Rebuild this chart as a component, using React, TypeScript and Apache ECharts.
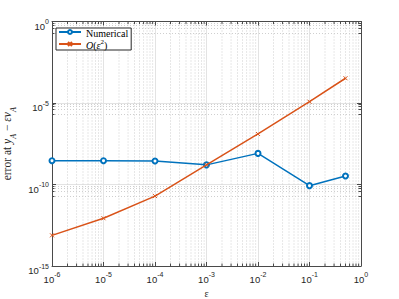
import React, { useEffect, useRef } from 'react';
import * as echarts from 'echarts';

const epsilon = [1e-6, 1e-5, 1e-4, 1e-3, 1e-2, 1e-1, 0.5];
const numerical = [2.9e-9, 2.9e-9, 2.75e-9, 1.6e-9, 8.1e-9, 8.5e-11, 3.3e-10];
const orderEps2 = [7.6e-14, 8.5e-13, 1.95e-11, 1.6e-9, 1.26e-7, 1.2e-5, 3.3e-4];
const seriesNames = ['Numerical', 'O(ε²)'];
const xRange = [1e-6, 1];
const yRange = [1e-15, 1];
const xMinorDecades = [-6, -5, -4, -3, -2, -1];
const xMinorMultipliers = [2, 3, 4, 5, 6, 7, 8, 9];

const BLUE = '#0072BD';
const ORANGE = '#D95319';
const AXIS = '#4a4a4a';
const TXT = '#262626';
const SERIF = '"Liberation Serif", "Times New Roman", serif';
const SANS = '"Liberation Sans", Arial, Helvetica, sans-serif';

const xMinorGrid: number[][] = [];
xMinorDecades.forEach((d) => {
  xMinorMultipliers.forEach((m) => {
    xMinorGrid.push([m * Math.pow(10, d), yRange[0]]);
  });
});

const powLabel = (v: number) => {
  const e = Math.round(Math.log10(v));
  return `{b|10}{e|${e}}`;
};

const labelRich = {
  b: { fontSize: 9.5, fontFamily: SANS, color: TXT, verticalAlign: 'bottom', lineHeight: 13 },
  e: { fontSize: 7, fontFamily: SANS, color: TXT, verticalAlign: 'top' },
};

export default function App() {
  const ref = useRef<HTMLDivElement>(null);
  useEffect(() => {
    if (!ref.current) return;
    const chart = echarts.init(ref.current, undefined, { renderer: 'svg' });
    const option: any = {
      animation: false,
      backgroundColor: '#ffffff',
      grid: { left: 52, right: 38, top: 21.5, bottom: 33, containLabel: false, outerBoundsMode: 'none' },
      legend: {
        data: seriesNames,
        orient: 'vertical',
        left: 56,
        top: 28,
        padding: [0, 3, 0, 2],
        itemGap: 0,
        itemWidth: 22,
        itemHeight: 5,
        backgroundColor: '#ffffff',
        borderColor: '#262626',
        borderWidth: 1,
        borderRadius: 0,
        textStyle: {
          fontFamily: SERIF,
          fontSize: 10,
          color: '#000',
          rich: {
            n: { fontFamily: SERIF, fontSize: 10, color: '#000', verticalAlign: 'bottom', lineHeight: 12 },
            i: { fontFamily: SERIF, fontSize: 10, fontStyle: 'italic', color: '#000', verticalAlign: 'bottom', lineHeight: 12 },
            s: { fontFamily: SERIF, fontSize: 7, color: '#000', verticalAlign: 'top' },
          },
        },
        formatter: (name: string) =>
          name === 'Numerical' ? `{n|Numerical}` : `{i|O}{n|(}{i|ε}{s|2}{n|)}`,
      },
      xAxis: [
        {
          type: 'log',
          logBase: 10,
          min: xRange[0],
          max: xRange[1],
          interval: 1,
          name: 'ε',
          nameLocation: 'middle',
          nameGap: 21,
          nameTextStyle: { fontFamily: SERIF, fontSize: 10, color: TXT },
          axisLine: { show: true, lineStyle: { color: AXIS, width: 1 } },
          axisTick: { show: true, inside: true, length: 4, lineStyle: { color: AXIS } },
          axisLabel: {
            margin: 5,
            formatter: powLabel,
            rich: labelRich,
          },
          splitLine: { show: true, lineStyle: { color: '#e3e3e3', width: 1 } },
          minorTick: { show: false },
          minorSplitLine: { show: false },
        },
        {
          type: 'log',
          logBase: 10,
          position: 'top',
          min: xRange[0],
          max: xRange[1],
          interval: 1,
          axisLine: { show: true, lineStyle: { color: AXIS, width: 1 } },
          axisTick: { show: true, inside: true, length: 4, lineStyle: { color: AXIS } },
          axisLabel: { show: false },
          splitLine: { show: false },
        },
      ],
      yAxis: [
        {
          type: 'log',
          logBase: 10,
          min: yRange[0],
          max: yRange[1],
          interval: 5,
          name: '{r|error at }{i|y}{s|A}{r| − }{i|εv}{s|A}',
          nameLocation: 'middle',
          nameGap: 26,
          nameTextStyle: {
            fontFamily: SERIF,
            fontSize: 11,
            color: TXT,
            rich: {
              r: { fontFamily: SERIF, fontSize: 11.5, color: TXT, verticalAlign: 'top', lineHeight: 16 },
              i: { fontFamily: SERIF, fontSize: 11.5, fontStyle: 'italic', color: TXT, verticalAlign: 'top', lineHeight: 16 },
              s: { fontFamily: SERIF, fontSize: 8, fontStyle: 'italic', color: TXT, verticalAlign: 'bottom' },
            },
          },
          axisLine: { show: true, lineStyle: { color: AXIS, width: 1 } },
          axisTick: { show: true, inside: true, length: 4, lineStyle: { color: AXIS } },
          axisLabel: {
            margin: 3,
            padding: [6, 0, 0, 0],
            formatter: powLabel,
            rich: labelRich,
          },
          splitLine: { show: true, lineStyle: { color: '#e3e3e3', width: 1 } },
          minorTick: { show: true, splitNumber: 5, length: 2.5, lineStyle: { color: AXIS } },
          minorSplitLine: { show: true, lineStyle: { color: '#cfcfcf', width: 1, type: [1, 2] } },
        },
        {
          type: 'log',
          logBase: 10,
          position: 'right',
          min: yRange[0],
          max: yRange[1],
          interval: 5,
          axisLine: { show: true, lineStyle: { color: AXIS, width: 1 } },
          axisTick: { show: true, inside: true, length: 4, lineStyle: { color: AXIS } },
          axisLabel: { show: false },
          splitLine: { show: false },
          minorTick: { show: true, splitNumber: 5, length: 2.5, lineStyle: { color: AXIS } },
        },
      ],
      series: [
        {
          type: 'custom',
          name: 'xminor',
          silent: true,
          z: 0,
          xAxisIndex: 0,
          yAxisIndex: 0,
          data: xMinorGrid,
          renderItem: (params: any, api: any) => {
            const x = api.value(0);
            const top = api.coord([x, yRange[1]]);
            const bot = api.coord([x, yRange[0]]);
            return {
              type: 'group',
              children: [
                {
                  type: 'line',
                  shape: { x1: top[0], y1: top[1], x2: bot[0], y2: bot[1] },
                  style: { stroke: '#cfcfcf', lineWidth: 1, lineDash: [1, 2] },
                },
                {
                  type: 'line',
                  shape: { x1: bot[0], y1: bot[1], x2: bot[0], y2: bot[1] - 2.5 },
                  style: { stroke: AXIS, lineWidth: 1 },
                },
                {
                  type: 'line',
                  shape: { x1: top[0], y1: top[1], x2: top[0], y2: top[1] + 2.5 },
                  style: { stroke: AXIS, lineWidth: 1 },
                },
              ],
            };
          },
        },
        {
          type: 'line',
          name: seriesNames[0],
          z: 3,
          data: epsilon.map((x, i) => [x, numerical[i]]),
          symbol: 'emptyCircle',
          symbolSize: 5,
          lineStyle: { color: BLUE, width: 1.5 },
          itemStyle: { color: BLUE, borderColor: BLUE, borderWidth: 1.3 },
        },
        {
          type: 'line',
          name: seriesNames[1],
          z: 4,
          data: epsilon.map((x, i) => [x, orderEps2[i]]),
          symbol: 'path://M0,0L10,10M10,0L0,10',
          symbolSize: 4,
          lineStyle: { color: ORANGE, width: 1.5 },
          itemStyle: { color: ORANGE, borderColor: ORANGE, borderWidth: 1 },
        },
      ],
    };
    chart.setOption(option);
    return () => chart.dispose();
  }, []);
  return <div ref={ref} style={{ width: 399, height: 299, position: 'absolute', left: 0, top: 0 }} />;
}
